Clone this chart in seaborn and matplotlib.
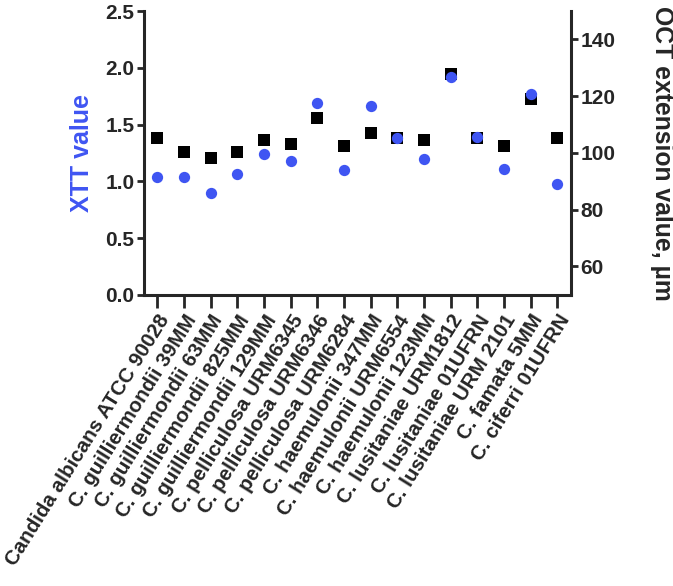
import numpy as np
import pandas as pd
import matplotlib
matplotlib.use('Agg')
import matplotlib.pyplot as plt
import seaborn as sns

strains = ['Candida albicans ATCC 90028', 'C. guilliermondii 39MM', 'C. guilliermondii 63MM',
           'C. guilliermondii 825MM', 'C. guilliermondii 129MM', 'C. pelliculosa URM6345',
           'C. pelliculosa URM6346', 'C. pelliculosa URM6284', 'C. haemulonii 347MM',
           'C. haemulonii URM6554', 'C. haemulonii 123MM', 'C. lusitaniae URM1812',
           'C. lusitaniae 01UFRN', 'C. lusitaniae URM 2101', 'C. famata 5MM', 'C. ciferri 01UFRN']
xtt = [1.04, 1.04, 0.90, 1.065, 1.24, 1.18, 1.69, 1.10, 1.66, 1.385, 1.20, 1.92, 1.39, 1.11, 1.77, 0.98]
oct_ext = [105.1, 100.2, 98.3, 100.2, 104.4, 103.1, 112.2, 102.5, 107.1, 105.4, 104.4, 128.0,
           105.1, 102.5, 119.0, 105.3]

df = pd.DataFrame({'strain': strains, 'xtt': xtt, 'oct': oct_ext})

sns.set_style('ticks')
plt.rcParams['font.family'] = ['Liberation Sans', 'DejaVu Sans']
plt.rcParams['font.weight'] = 'bold'

blue = '#3f55f2'

fig = plt.figure(figsize=(6.73, 5.86), dpi=100)
ax = fig.add_axes([0.214, 0.497, 0.634, 0.484])
ax2 = ax.twinx()

sns.scatterplot(data=df, x='strain', y='oct', ax=ax2, marker='s', s=76, color='black',
                edgecolor='black', linewidth=0, zorder=2)
sns.scatterplot(data=df, x='strain', y='xtt', ax=ax, marker='o', s=66, color=blue,
                edgecolor=blue, linewidth=0, zorder=3)

# blue points drawn over the squares
ax.set_zorder(ax2.get_zorder() + 1)
ax.patch.set_visible(False)

ax.set_xlim(-0.5, len(strains) - 0.5)
ax.set_ylim(0, 2.5)
ax.set_yticks([0.0, 0.5, 1.0, 1.5, 2.0, 2.5])
ax.set_yticklabels(['0.0', '0.5', '1.0', '1.5', '2.0', '2.5'])
ax2.set_ylim(50, 150)
ax2.set_yticks([60, 80, 100, 120, 140])

ax.set_xticks(range(len(strains)))
ax.set_xticklabels(strains, rotation=58, ha='right', rotation_mode='anchor', fontsize=14.8,
                   fontweight='bold')
ax.set_xlabel('')
ax.set_ylabel('XTT value', color=blue, fontsize=18, fontweight='bold')
ax.yaxis.set_label_coords(-0.117, 0.5)
ax2.set_ylabel('OCT extension value, µm', fontsize=17.8, fontweight='bold', rotation=270,
               va='center')
ax2.yaxis.set_label_coords(1.215, 0.5)

for a in (ax, ax2):
    a.spines['top'].set_visible(False)
    for sp in a.spines.values():
        sp.set_linewidth(2.2)
ax.spines['right'].set_visible(False)
ax2.spines['left'].set_visible(False)
ax2.spines['bottom'].set_visible(False)

ax.tick_params(axis='y', labelsize=15, width=2, length=5, direction='out', pad=2)
ax.tick_params(axis='x', width=2, length=9, direction='out', pad=3)
ax2.tick_params(axis='y', labelsize=15, width=2, length=5, direction='out', pad=2)
for lbl in ax.get_yticklabels() + ax2.get_yticklabels():
    lbl.set_fontweight('bold')

fig.savefig('out.png', dpi=100)
